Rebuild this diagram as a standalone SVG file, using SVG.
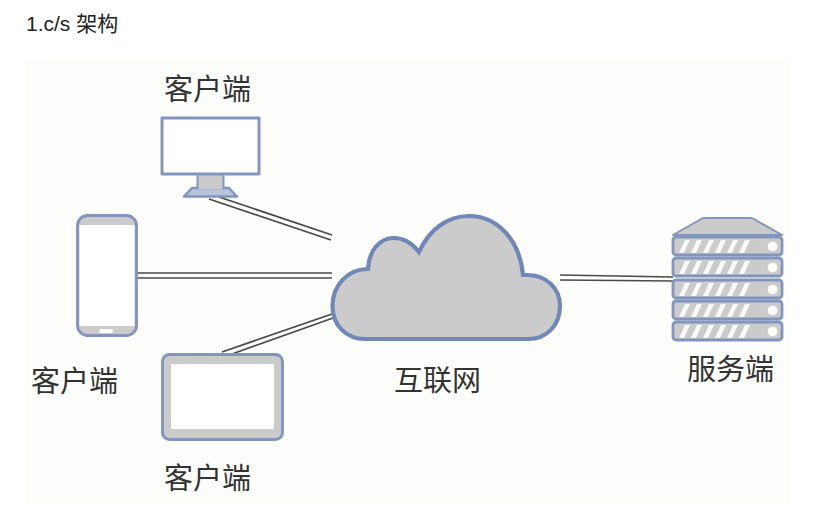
<svg xmlns="http://www.w3.org/2000/svg" width="813" height="515" viewBox="0 0 813 515">
<style>
.o{stroke:#8195bf;stroke-width:2.9;stroke-linejoin:round}
.g{fill:#cbcbcb}
.w{fill:#fff}
.c{stroke:#4a4a4a;stroke-width:1.7;fill:none}
text{font-family:"Noto Sans CJK SC","Liberation Sans",sans-serif;fill:#333}
.l{font-size:29px}
.s{fill:#fff;fill-opacity:.9}
</style>
<defs>
<g id="unit">
<rect x="0" y="0" width="109" height="18" rx="3" class="g o" style="stroke-width:2.8"/>
<path class="s" d="M6 16L12 3H17L11 16ZM18 16L24 3H29L23 16ZM30 16L36 3H41L35 16ZM42 16L48 3H53L47 16ZM54 16L60 3H65L59 16ZM66 16L72 3H77L71 16Z"/>
<circle cx="99.500" cy="9.500" r="4.800" fill="#fff"/>
</g>
</defs>
<rect width="813" height="515" fill="#fff"/>
<rect x="25" y="60" width="765" height="445" fill="#fdfdfc"/>
<text id="title" x="26" y="31" style="font-family:'Liberation Sans','Noto Sans CJK SC',sans-serif;font-size:21px;fill:#222">1.c/s 架构</text>
<g id="connectors">
<path class="c" d="M219 197L332 235M209 199L331 240M137 273H332M137 278H332M222 352L332 314M232 354L333 318M560 275L673 277M560 280L673 281"/>
</g>
<g id="monitor">
<rect x="198" y="174" width="25" height="18" class="g o"/>
<path d="M184 196.500L192 188H229L237 196.500Z" fill="#b9c3d9" stroke="#8195bf" stroke-width="2.500" stroke-linejoin="round"/>
<rect x="198.500" y="174" width="24" height="15" class="g"/>
<rect x="162" y="118" width="97" height="56" fill="#fff" class="o"/>
<text class="l" x="164" y="100">客户端</text>
</g>
<g id="phone">
<rect x="77.500" y="215.500" width="59" height="120" rx="10" class="g o"/>
<rect x="79.500" y="225" width="55" height="101" class="w"/>
<rect x="99" y="329" width="14" height="4" rx="2" class="w"/>
<text class="l" x="31" y="392">客户端</text>
</g>
<g id="tablet">
<rect x="162.500" y="354.500" width="120" height="85" rx="7" class="g o"/>
<rect x="171" y="364" width="103" height="65" class="w"/>
<text class="l" x="164" y="489">客户端</text>
</g>
<g id="cloud">
<path class="g" stroke="#6f88b8" stroke-width="4.200" stroke-linejoin="miter" d="M365 339H528C547 339 560 325 560 306C560 288 546 275 527 275H523C520 241 498 216 469 216C447 216 429 230 419 252C412 243 403 238 394 238C379 238 369 251 368 269C348 269 332.500 285 332.500 306C332.500 325 346 339 365 339Z"/>
<text class="l" x="394" y="391">互联网</text>
</g>
<g id="server">
<path d="M673 235L703 218H752L782 235Z" class="g o" style="stroke-width:2"/>
<use href="#unit" x="673" y="237"/>
<use href="#unit" x="673" y="258"/>
<use href="#unit" x="673" y="280"/>
<use href="#unit" x="673" y="301"/>
<use href="#unit" x="673" y="322"/>
<text class="l" x="687" y="380">服务端</text>
</g>
</svg>
